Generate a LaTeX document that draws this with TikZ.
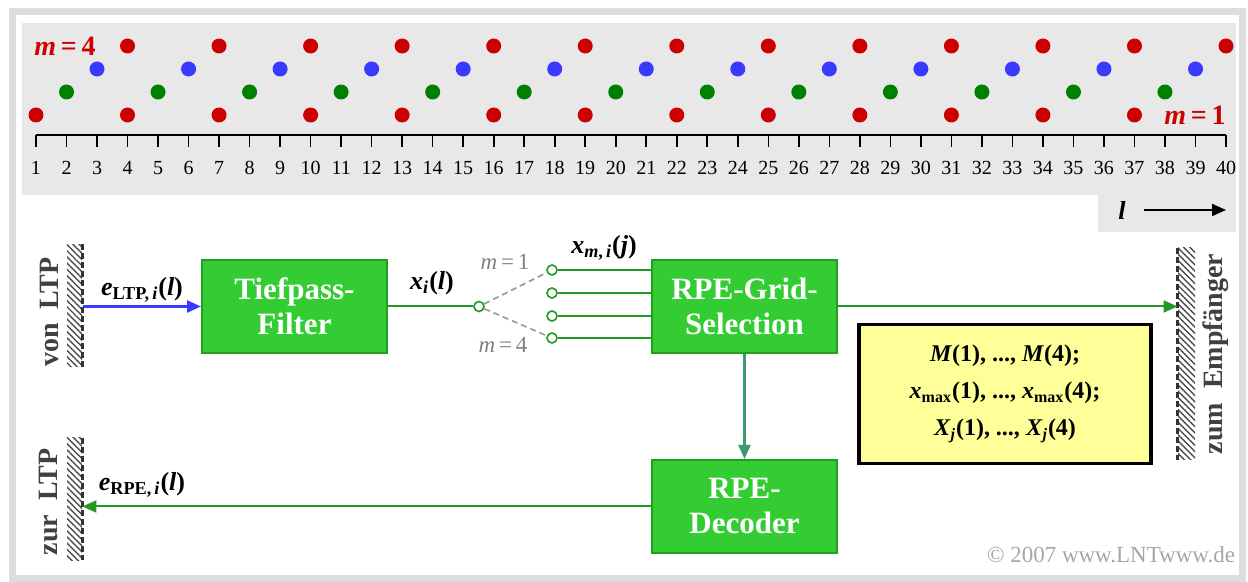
\documentclass[tikz,border=0pt]{standalone}
\usepackage{fontspec}
\setmainfont{Liberation Serif}
\usetikzlibrary{arrows.meta,patterns.meta}
\definecolor{lntred}{HTML}{CC0000}
\definecolor{lntblue}{HTML}{3939FF}
\definecolor{lntgreen}{HTML}{008000}
\definecolor{boxgreen}{HTML}{33CC33}
\definecolor{boxedge}{HTML}{229F22}
\definecolor{wiregreen}{HTML}{229922}
\definecolor{downteal}{HTML}{3C9A6E}
\definecolor{panelgrey}{HTML}{E8E8E8}
\definecolor{framegrey}{HTML}{DDDDDD}
\definecolor{notefill}{HTML}{FFFF99}
\tikzset{every node/.style={font=\fontsize{10}{12}\selectfont,inner sep=0pt},
  block/.style={draw=boxedge,fill=boxgreen,text=white,align=center,
    minimum width=92.5pt,minimum height=46.5pt,line width=1pt,font=\fBox},
  wall/.style={pattern={Lines[angle=-45,distance=2.2pt,line width=0.7pt]},
    pattern color=black!70,minimum width=7.5pt},
  walledge/.style={black!80,line width=1.4pt,dash pattern=on 3pt off 1.5pt},
  tap/.style={circle,draw=wiregreen,fill=white,line width=0.8pt,minimum size=5pt},
  smp/.style={circle,fill=#1,minimum size=7.5pt}}
\newcommand{\fBox}{\fontsize{15.5}{17.5}\selectfont\bfseries}
\newcommand{\fLab}{\fontsize{13}{15}\selectfont\bfseries}
\newcommand{\fSide}{\fontsize{14}{16}\selectfont\bfseries}
\newcommand{\fNote}{\fontsize{12}{18.5}\selectfont\bfseries}
\newcommand{\fSw}{\fontsize{11.5}{13}\selectfont}
\newcommand{\lpos}[1]{{36+(#1-1)*30.513}}

\begin{document}
\begin{tikzpicture}[x=0.5pt,y=-0.5pt,
    wire/.style={draw=wiregreen,line width=1pt},
    arr/.style={-{Triangle[length=7pt,width=6pt]}},
    sw/.style={gray!80,line width=0.8pt,dash pattern=on 3pt off 2pt}]
  \useasboundingbox (0,0) rectangle (1248,582);

  % frame and grey panel of the time axis
  \draw[framegrey,line width=3.5pt] (12,12) rectangle (1242,578);
  \fill[panelgrey] (22,23) rectangle (1236,195);
  \fill[panelgrey] (1098,195) rectangle (1236,232);

  % samples of the four grids
  \foreach \n in {1,4,...,37}
    \node[smp=lntred] (ra\n) at (\lpos{\n},115) {};
  \foreach \n in {2,5,...,38}
    \node[smp=lntgreen] (gr\n) at (\lpos{\n},92) {};
  \foreach \n in {3,6,...,39}
    \node[smp=lntblue] (bl\n) at (\lpos{\n},69) {};
  \foreach \n in {4,7,...,40}
    \node[smp=lntred] (rb\n) at (\lpos{\n},46) {};
  \node[text=lntred,font=\fontsize{14}{16}\selectfont\bfseries] (mfour) at (65,46) {\textit{m}\,=\,4};
  \node[text=lntred,font=\fontsize{14}{16}\selectfont\bfseries] (mone) at (1195,115) {\textit{m}\,=\,1};

  % time axis
  \draw[line width=1pt] (\lpos{1},135) -- (\lpos{40},135);
  \foreach \n in {1,...,40}{
    \draw[line width=0.8pt] (\lpos{\n},135) -- (\lpos{\n},147);
    \node (t\n) at (\lpos{\n},168) {\n};}
  \node[font=\fLab] (ell) at (1122,210) {\textit{l}};
  \coordinate (ellend) at (1226,210);
  \draw[arr,line width=1pt] ([xshift=9pt]ell.east) -- (ellend);

  % walls
  \node[wall,minimum height=61pt] (vonwall) at (74.5,306) {};
  \node[wall,minimum height=61pt] (zurwall) at (74.5,499) {};
  \node[wall,minimum height=106pt,minimum width=8.5pt] (zumwall) at (1186.5,354) {};
  \draw[walledge] (vonwall.north east) -- (vonwall.south east);
  \draw[walledge] (zurwall.north east) -- (zurwall.south east);
  \draw[walledge] (zumwall.north west) -- (zumwall.south west);
  \node[rotate=90,font=\fSide,text=black!75] (von) at (49,312) {von\ \ LTP};
  \node[rotate=90,font=\fSide,text=black!75] (zur) at (49,502) {zur\ \ LTP};
  \node[rotate=90,font=\fSide,text=black!75] (zum) at (1216,354) {zum\ \ Empfänger};

  % blocks
  \node[block] (tp) at (294.5,306.5) {Tiefpass-\\Filter};
  \node[block] (grid) at (744.5,306.5) {RPE-Grid-\\Selection};
  \node[block] (dec) at (744.5,506.5) {RPE-\\Decoder};
  \node[draw=black,line width=1.6pt,fill=notefill,align=center,font=\fNote,
    minimum width=146pt,minimum height=69.5pt] (note) at (1005,394)
    {\textit{M}(1), ..., \textit{M}(4);\\
     \textit{x}\textsubscript{max}(1), ..., \textit{x}\textsubscript{max}(4);\\
     \textit{X}\textsubscript{\textit{j}}(1), ..., \textit{X}\textsubscript{\textit{j}}(4)};

  % switch to the four grids
  \node[tap] (sw) at (479,306.5) {};
  \node[tap] (c1) at (552,270) {};
  \node[tap] (c2) at (552,293) {};
  \node[tap] (c3) at (552,316) {};
  \node[tap] (c4) at (552,338) {};
  \draw[sw] (sw) -- (c1);
  \draw[sw] (sw) -- (c4);
  \node[font=\fSw,text=gray] (mg1) at (505,262) {\textit{m}\,=\,1};
  \node[font=\fSw,text=gray] (mg4) at (503,345) {\textit{m}\,=\,4};
  \foreach \c in {c1,c2,c3,c4}
    \draw[wire] (\c) -- (\c -| grid.west);

  % signals
  \draw[lntblue,line width=1.2pt,arr] (vonwall.east |- tp.west) -- (tp.west);
  \draw[wire] (tp.east) -- (sw);
  \draw[wire,arr] (grid.east) -- (grid.east -| zumwall.west);
  \draw[downteal,line width=1.2pt,arr] (grid.south) -- (dec.north);
  \draw[wire,arr] (dec.west) -- (dec.west -| zurwall.east);
  \node[font=\fLab] (elab) at (142,290)
    {\textit{e}\textsubscript{LTP,\,\textit{i}}(\textit{l})};
  \node[font=\fLab] (xlab) at (432,283)
    {\textit{x}\textsubscript{\textit{i}}(\textit{l})};
  \node[font=\fLab] (xmlab) at (604,248)
    {\textit{x}\textsubscript{\textit{m},\,\textit{i}}(\textit{j})};
  \node[font=\fLab] (rlab) at (142,485)
    {\textit{e}\textsubscript{RPE,\,\textit{i}}(\textit{l})};
  \node[font=\fSw,text=black!35] (copy) at (1111,555) {© 2007 www.LNTwww.de};
\end{tikzpicture}
\end{document}
